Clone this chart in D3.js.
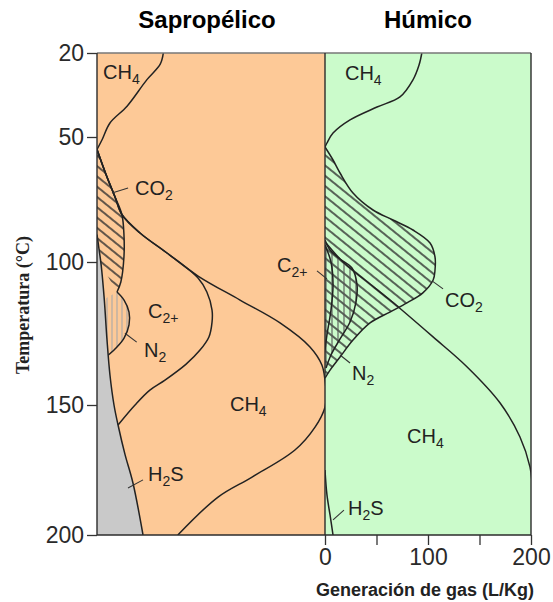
<!DOCTYPE html>
<html lang="es">
<head>
    <meta charset="UTF-8">
    <title>Generación de gas: Sapropélico / Húmico</title>
    <script src="https://d3js.org/d3.v7.min.js"></script>
    <style>
        body { margin: 0; background: #fff; }
        svg { display: block; }
        .lbl { font-family: "Liberation Sans", Arial, sans-serif; font-size: 20px; fill: #222; }
        .tick text { font-family: "Liberation Sans", Arial, sans-serif; font-size: 23px; fill: #2a2a2a; }
        .tick line { stroke: #333; stroke-width: 1.3; }
        .curve { fill: none; stroke: #222; stroke-width: 1.5; }
        .leader { stroke: #333; stroke-width: 1.1; }
    </style>
</head>
<body>
    <div id="chart"></div>

    <script>
        // values, points are [temperatura °C, gas L/Kg]
        const tempTicks = [20, 50, 100, 150, 200];
        const gasTicks = [0, 50, 100, 150, 200];
        const gasLabels = [0, 100, 200];

        // Sapropélico
        const sapCh4Top = [[20,64],[24,61],[29.6,48],[39,29],[45,12.5],[51,5],[55,0]];
        const sapCo2 = [[55,0],[65,8.7],[74,17.4],[81,24],[89,26],[98,26],[107,23],[110.5,19.3]];
        const sapN2 = [[110.5,19.3],[113.3,26.1],[117.5,30.9],[122,30.9],[126.6,26.1],[129.7,19.3],[132.5,11]];
        const sapH2s = [[89,0],[95,2],[101,4],[113,7],[127,9.6],[139.5,12.5],[150,16.4],[157.7,20.3],[169,27],[180,34.7],[200,44.4]];
        const sapC2 = [[55,0],[65,8.7],[74,17.4],[81,24],[88.4,41.5],[96.4,67.5],[105.6,97.5],[110.5,106],[116.8,111],[121,111],[126.2,108],[130.8,99.4],[135.7,86],[141.3,65.6],[144.8,51],[150,36.7],[157.7,20.3]];
        const sapTotal = [[55,0],[65,8.7],[74,17.4],[81,24],[88.4,41.5],[96.4,67.5],[104.9,97.5],[113.3,138],[121.3,176.6],[129.7,205.5],[136,217],[141.3,220],[145.8,221],[150.8,220],[158.5,210.4],[167.3,191],[177.7,149.6],[185.4,116.8],[200,78]];

        // Húmico
        const humCh4Top = [[20,94],[24.3,91.3],[29.6,85.4],[35.7,72.8],[39.3,50.5],[43.9,24.3],[48.6,7.8],[52.4,1.9],[54,0]];
        const humCo2 = [[54,0],[59.2,7.8],[64.4,14.6],[72.4,27.2],[79.2,46.6],[83.2,66],[87.2,85.4],[92.4,102],[98,106.8],[102.8,106.8],[106.3,105],[110.8,95],[114.3,79.6],[117.5,63],[121.3,43.7],[127.3,27.2],[133.2,14.6],[137.8,4.9],[140.6,0]];
        const humN2 = [[91.2,0],[95.2,4.9],[98.8,14.6],[102.1,26.2],[108,31.1],[114,30.1],[121,24.3],[126.9,14.6],[132.5,5.8],[137.1,1]];
        const humC2 = [[93.2,0],[100,5.8],[108,7.8],[116.8,5.8],[125.5,1.9],[130.8,0]];
        const humTotal = [[92.4,1],[100,17.5],[106.3,38.8],[113.3,63.1],[126.2,104.9],[136.7,138],[149.3,170],[162.3,189.3],[173.8,199],[180,201]];
        const humH2s = [[175,0],[184.6,1.9],[192.3,4.9],[200,7.8]];

        // labels: [temp, gas, parts]  (part = [text, isSubscript])
        const sapLabels = [
            [29.3, 5.8, [['CH',0],['4',1]]],
            [73.2, 36.7, [['CO',0],['2',1]]],
            [119.6, 49.2, [['C',0],['2+',1]]],
            [133.2, 45.4, [['N',0],['2',1]]],
            [152.3, 128.3, [['CH',0],['4',1]]],
            [179.2, 49.2, [['H',0],['2',1],['S',0]]]
        ];
        const humLabels = [
            [29.6, 19.4, [['CH',0],['4',1]]],
            [103.5, -46.6, [['C',0],['2+',1]]],
            [115.7, 116.5, [['CO',0],['2',1]]],
            [141.3, 26.2, [['N',0],['2',1]]],
            [164.6, 79.6, [['CH',0],['4',1]]],
            [192.3, 22.3, [['H',0],['2',1],['S',0]]]
        ];
        const sapLeaders = [
            [[70.4,30],[72.4,14.5]],
            [[128,38.3],[124.9,27]],
            [[178.8,44.4],[181.9,29.9]]
        ];
        const humLeaders = [
            [[103.1,-7.8],[105.9,1.9]],
            [[109.4,114.6],[106.6,103.9]],
            [[135.3,24.3],[132.5,14.6]],
            [[190.4,18.4],[194.2,7.8]]
        ];

        // layout
        const W = 553, H = 602;
        const pLeft = 97, pMid = 325, pRight = 531, pTop = 53, pBottom = 535;

        const y = d3.scaleLinear().domain(tempTicks).range([pTop, 137, 262, 405, pBottom]);
        const xSap = d3.scaleLinear().domain([0, 220]).range([pLeft, pMid]);
        const xHum = d3.scaleLinear().domain([0, 200]).range([pMid, pRight]);

        const svg = d3.select('#chart').append('svg')
            .attr('width', W)
            .attr('height', H);

        const defs = svg.append('defs');

        // diagonal hatch (CO2)
        const hatch = defs.append('pattern')
            .attr('id', 'hatch')
            .attr('patternUnits', 'userSpaceOnUse')
            .attr('width', 10).attr('height', 8)
            .attr('patternTransform', 'rotate(39)');
        hatch.append('line')
            .attr('x1', 0).attr('y1', 4).attr('x2', 10).attr('y2', 4)
            .attr('stroke', '#303030').attr('stroke-width', 1.5);

        // vertical hatch (N2)
        ['vhatchL', 'vhatchR'].forEach((id, i) => {
            const p = defs.append('pattern')
                .attr('id', id)
                .attr('patternUnits', 'userSpaceOnUse')
                .attr('width', i ? 6 : 5).attr('height', 10);
            p.append('line')
                .attr('x1', 2).attr('y1', 0).attr('x2', 2).attr('y2', 10)
                .attr('stroke', i ? '#555' : '#a8a8a8').attr('stroke-width', 1.1);
        });

        defs.append('clipPath').attr('id', 'clipSap')
            .append('rect').attr('x', pLeft).attr('y', pTop)
            .attr('width', pMid - pLeft).attr('height', pBottom - pTop);
        defs.append('clipPath').attr('id', 'clipHum')
            .append('rect').attr('x', pMid).attr('y', pTop)
            .attr('width', pRight - pMid).attr('height', pBottom - pTop);

        // panel backgrounds
        svg.append('rect')
            .attr('x', pLeft).attr('y', pTop)
            .attr('width', pMid - pLeft).attr('height', pBottom - pTop)
            .attr('fill', '#fdc997');
        svg.append('rect')
            .attr('x', pMid).attr('y', pTop)
            .attr('width', pRight - pMid).attr('height', pBottom - pTop)
            .attr('fill', '#cbfbcb');

        function lineFor(x) {
            return d3.line()
                .curve(d3.curveCatmullRom.alpha(0.5))
                .x(d => x(d[1]))
                .y(d => y(d[0]));
        }

        // region between an outer boundary (top to bottom) and an inner one (bottom to top)
        function band(x, outer, inner) {
            const ln = lineFor(x);
            return ln(outer) + ln(inner).replace('M', 'L') + 'Z';
        }

        // ---- Sapropélico panel
        const gS = svg.append('g').attr('clip-path', 'url(#clipSap)');

        gS.append('path')
            .attr('d', band(xSap, sapCo2, sapH2s.filter(d => d[0] <= 101).reverse().concat([[55, 0]])))
            .attr('fill', 'url(#hatch)');
        gS.append('path')
            .attr('d', band(xSap, sapN2, sapH2s.filter(d => d[0] > 110.5 && d[0] < 132.5).reverse()))
            .attr('fill', 'url(#vhatchL)');
        gS.append('path')
            .attr('d', band(xSap, sapH2s, [[200, 0], [89, 0]]))
            .attr('fill', '#c9c9c9');

        [sapCh4Top, sapCo2, sapN2, sapH2s, sapC2, sapTotal].forEach(c => {
            gS.append('path').attr('class', 'curve').attr('d', lineFor(xSap)(c));
        });

        // ---- Húmico panel
        const gH = svg.append('g').attr('clip-path', 'url(#clipHum)');

        gH.append('path')
            .attr('d', band(xHum, humCo2, [[140.6, 0], [54, 0]]))
            .attr('fill', 'url(#hatch)');
        gH.append('path')
            .attr('d', band(xHum, humN2, [[137.1, 0], [91.2, 0]]))
            .attr('fill', 'url(#vhatchR)');

        [humCh4Top, humCo2, humN2, humC2, humTotal, humH2s].forEach(c => {
            gH.append('path').attr('class', 'curve').attr('d', lineFor(xHum)(c));
        });

        // frame
        const frame = svg.append('g')
            .attr('stroke', '#2b2b2b')
            .attr('stroke-width', 1.4);
        frame.append('line').attr('x1', pLeft).attr('x2', pRight).attr('y1', pTop).attr('y2', pTop).attr('stroke', '#777');
        frame.append('line').attr('x1', pLeft).attr('x2', pRight).attr('y1', pBottom).attr('y2', pBottom);
        frame.append('line').attr('x1', pLeft).attr('x2', pLeft).attr('y1', pTop).attr('y2', pBottom);
        frame.append('line').attr('x1', pMid).attr('x2', pMid).attr('y1', pTop).attr('y2', pBottom);
        frame.append('line').attr('x1', pRight).attr('x2', pRight).attr('y1', pTop).attr('y2', pBottom);

        // axes
        svg.append('g')
            .attr('transform', `translate(${pLeft},0)`)
            .call(d3.axisLeft(y).tickValues(tempTicks).tickSize(10).tickPadding(3))
            .call(g => g.select('.domain').remove());

        svg.append('g')
            .attr('transform', `translate(0,${pBottom})`)
            .call(d3.axisBottom(xHum).tickValues(gasTicks).tickSize(10).tickPadding(4)
                .tickFormat(d => gasLabels.includes(d) ? d : ''))
            .call(g => g.select('.domain').remove());

        // labels inside the panels
        function drawLabels(x, labels, leaders) {
            leaders.forEach(l => {
                svg.append('line').attr('class', 'leader')
                    .attr('x1', x(l[0][1])).attr('y1', y(l[0][0]))
                    .attr('x2', x(l[1][1])).attr('y2', y(l[1][0]));
            });
            labels.forEach(([t, g, parts]) => {
                const txt = svg.append('text').attr('class', 'lbl')
                    .attr('x', x(g)).attr('y', y(t));
                let shifted = false;
                parts.forEach(([s, sub]) => {
                    const ts = txt.append('tspan').text(s);
                    if (sub) {
                        ts.attr('font-size', 14).attr('dy', 5);
                        shifted = true;
                    } else if (shifted) {
                        ts.attr('dy', -5);
                        shifted = false;
                    }
                });
            });
        }
        drawLabels(xSap, sapLabels, sapLeaders);
        drawLabels(xHum, humLabels, humLeaders);

        // titles
        svg.append('text')
            .attr('x', 207).attr('y', 28)
            .attr('text-anchor', 'middle')
            .style('font-family', '"Liberation Sans", Arial, sans-serif')
            .style('font-weight', 'bold')
            .style('font-size', '24px')
            .text('Sapropélico');
        svg.append('text')
            .attr('x', (pMid + pRight) / 2).attr('y', 28)
            .attr('text-anchor', 'middle')
            .style('font-family', '"Liberation Sans", Arial, sans-serif')
            .style('font-weight', 'bold')
            .style('font-size', '24px')
            .text('Húmico');

        // axis titles
        svg.append('text')
            .attr('x', 425).attr('y', 596)
            .attr('text-anchor', 'middle')
            .style('font-family', '"Liberation Sans", Arial, sans-serif')
            .style('font-weight', 'bold')
            .style('font-size', '18px')
            .style('fill', '#222')
            .text('Generación de gas (L/Kg)');
        svg.append('text')
            .attr('transform', 'translate(29,305) rotate(-90)')
            .attr('text-anchor', 'middle')
            .style('font-family', '"Liberation Serif", "Times New Roman", serif')
            .style('font-weight', 'bold')
            .style('font-size', '18px')
            .style('fill', '#222')
            .text('Temperatura (°C)');
    </script>
</body>
</html>
